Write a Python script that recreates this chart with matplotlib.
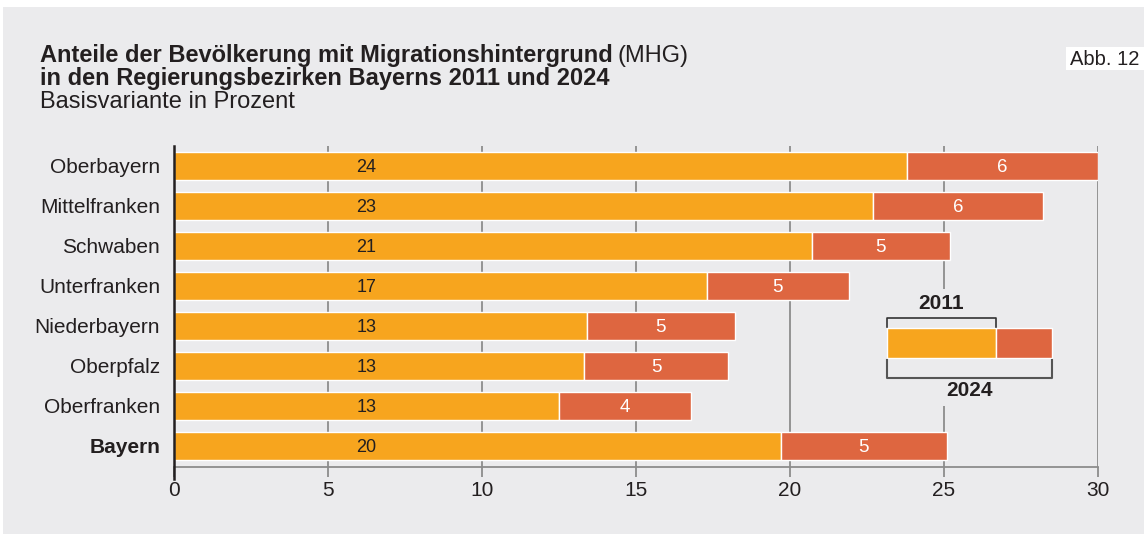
import matplotlib.pyplot as plt
from matplotlib.patches import Rectangle

plt.rcParams['font.family'] = ['Liberation Sans', 'DejaVu Sans']

# Data (shares in percent)
regions = ['Oberbayern', 'Mittelfranken', 'Schwaben', 'Unterfranken',
           'Niederbayern', 'Oberpfalz', 'Oberfranken', 'Bayern']
share_2011 = [23.8, 22.7, 20.7, 17.3, 13.4, 13.3, 12.5, 19.7]
share_2024 = [30.0, 28.2, 25.2, 21.9, 18.2, 18.0, 16.8, 25.1]
label_2011 = ['24', '23', '21', '17', '13', '13', '13', '20']
label_diff = ['6', '6', '5', '5', '5', '5', '4', '5']
xticks = [0, 5, 10, 15, 20, 25, 30]

orange = '#F7A51E'
red = '#DE6640'
bg = '#EBEBED'
grid_col = '#8C8C8C'
txt = '#231F20'

fig = plt.figure(figsize=(11.44, 5.34), dpi=100, facecolor='white')
# grey panel
fig.add_artist(Rectangle((3 / 1144, 0), 1, 1 - 7 / 534, transform=fig.transFigure,
                         facecolor=bg, edgecolor='none', zorder=-10))

ax = fig.add_axes([174 / 1144, (534 - 466.7) / 534, 924 / 1144, 320.7 / 534])
ax.set_facecolor('none')
ax.set_xlim(0, 30)
ax.set_ylim(7.52, -0.5)

ypos = list(range(len(regions)))
diffs = [b - a for a, b in zip(share_2011, share_2024)]

# grid lines (25 interrupted by the legend)
for t in xticks[1:]:
    if t == 25:
        ax.vlines(t, -0.5, 3.08, color=grid_col, lw=1.3, zorder=1)
        ax.vlines(t, 6.0, 7.52, color=grid_col, lw=1.3, zorder=1)
    else:
        ax.vlines(t, -0.5, 7.52, color=grid_col, lw=1.3, zorder=1)

ax.barh(ypos, share_2011, height=0.7, color=orange, edgecolor='white', lw=1, zorder=2)
ax.barh(ypos, diffs, left=share_2011, height=0.7, color=red, edgecolor='white', lw=1, zorder=2)

for y, a, d, la, ld in zip(ypos, share_2011, diffs, label_2011, label_diff):
    ax.text(6.25, y + 0.04, la, ha='center', va='center', fontsize=13, color=txt, zorder=3)
    ax.text(a + d / 2, y + 0.04, ld, ha='center', va='center', fontsize=13.5, color='white', zorder=3)

# legend
lx0, lx1, lx2 = 23.15, 26.69, 28.5
ax.add_patch(Rectangle((lx0, 4.05), lx1 - lx0, 0.75, facecolor=orange, edgecolor='white', lw=1, zorder=2))
ax.add_patch(Rectangle((lx1, 4.05), lx2 - lx1, 0.75, facecolor=red, edgecolor='white', lw=1, zorder=2))
ax.plot([lx0, lx0, lx1, lx1], [4.03, 3.79, 3.79, 4.03], color='#333333', lw=1.2, zorder=3)
ax.plot([lx0, lx0, lx2, lx2], [4.85, 5.3, 5.3, 4.85], color='#555555', lw=1.5, zorder=3)
ax.text((lx0 + lx1) / 2, 3.43, '2011', ha='center', va='center', fontsize=15, fontweight='bold', color=txt)
ax.text((lx0 + lx2) / 2, 5.62, '2024', ha='center', va='center', fontsize=15, fontweight='bold', color=txt)

# axes styling
for s in ['top', 'right']:
    ax.spines[s].set_visible(False)
ax.spines['bottom'].set_color(grid_col)
ax.spines['bottom'].set_linewidth(1.3)
ax.spines['left'].set_visible(False)
ax.plot([0, 0], [-0.5, 7.82], color=txt, lw=1.8, clip_on=False, zorder=4)

ax.set_xticks(xticks)
ax.set_xticklabels([str(t) for t in xticks], fontsize=15, color=txt)
ax.tick_params(axis='x', direction='out', length=7.2, width=1.3, color=grid_col, pad=3)
ax.set_yticks(ypos)
ax.set_yticklabels(regions, fontsize=15, color=txt)
ax.tick_params(axis='y', length=0, pad=10)
ax.get_yticklabels()[-1].set_fontweight('bold')

# titles
t1 = fig.text(40 / 1144, 1 - 62 / 534, 'Anteile der Bevölkerung mit Migrationshintergrund', fontsize=17,
              fontweight='bold', color=txt, va='baseline')
fig.text(40 / 1144, 1 - 85 / 534, 'in den Regierungsbezirken Bayerns 2011 und 2024', fontsize=17,
         fontweight='bold', color=txt, va='baseline')
fig.text(40 / 1144, 1 - 108 / 534, 'Basisvariante in Prozent', fontsize=17, color=txt, va='baseline')
fig.canvas.draw()
bb = t1.get_window_extent()
fig.text((bb.x1 + 5) / 1144, 1 - 62 / 534, '(MHG)', fontsize=17, color=txt, va='baseline')

fig.add_artist(Rectangle((1066 / 1144, 1 - 70 / 534), 80 / 1144, 23 / 534, transform=fig.transFigure,
                         facecolor='white', edgecolor='none', zorder=1))
fig.text(1070 / 1144, 1 - 65 / 534, 'Abb. 12', fontsize=14.5, color=txt, va='baseline', zorder=2)

fig.savefig('out.png', dpi=100, facecolor='white')
